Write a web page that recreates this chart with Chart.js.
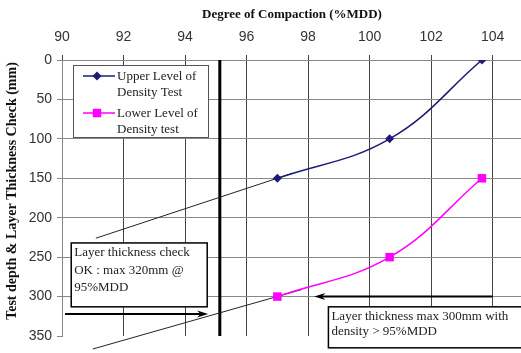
<!DOCTYPE html>
<html>
<head>
<meta charset="utf-8">
<script src="https://cdn.jsdelivr.net/npm/chart.js@4.4.1/dist/chart.umd.min.js"></script>
<style>
  html, body { margin: 0; padding: 0; background: #fff; }
  canvas { display: block; }
</style>
</head>
<body>
<canvas id="chart" width="521" height="353"></canvas>
<script>
// degree of compaction (%MDD) vs depth (mm)
const upperCompaction = [97, 100.65, 103.65];
const upperDepth = [150, 100, 0];
const lowerCompaction = [97, 100.65, 103.65];
const lowerDepth = [300, 250, 150];

// straight extensions drawn through the 97% points
const upperTrendX = [91.1, 97.5];
const upperTrendY = [226, 143.5];
const lowerTrendX = [91.0, 97.8];
const lowerTrendY = [366.5, 291];

// 95% MDD limit
const limitX = [95.13, 95.13];
const limitY = [0, 350];

const xTicks = [90, 92, 94, 96, 98, 100, 102, 104];
const yTicks = [0, 50, 100, 150, 200, 250, 300, 350];

const toPoints = (xs, ys) => xs.map((x, i) => ({ x, y: ys[i] }));

const NAVY = "#1c1c78";
const MAGENTA = "#ff00ff";
const SERIF = "'Liberation Serif', 'Times New Roman', serif";

// callouts in data units
const notes = [
  { box: [90.3, 232, 94.72, 313], lines: ["Layer thickness check", "OK : max 320mm @", "95%MDD"], gap: 17.5 },
  { box: [98.66, 313, 105.1, 365], lines: ["Layer thickness max 300mm with", "density > 95%MDD"], gap: 15 },
];
const arrows = [
  { from: [90.1, 322], to: [94.75, 322] },
  { from: [104.0, 300], to: [98.2, 300] },
];

function arrow(ctx, x1, y1, x2, y2) {
  const a = Math.atan2(y2 - y1, x2 - x1);
  const len = 11, half = 3.5;
  ctx.beginPath();
  ctx.moveTo(x1, y1);
  ctx.lineTo(x2 - Math.cos(a) * len * 0.7, y2 - Math.sin(a) * len * 0.7);
  ctx.stroke();
  ctx.beginPath();
  ctx.moveTo(x2, y2);
  ctx.lineTo(x2 - Math.cos(a) * len - Math.sin(a) * half, y2 - Math.sin(a) * len + Math.cos(a) * half);
  ctx.lineTo(x2 - Math.cos(a) * len * 0.7, y2 - Math.sin(a) * len * 0.7);
  ctx.lineTo(x2 - Math.cos(a) * len + Math.sin(a) * half, y2 - Math.sin(a) * len - Math.cos(a) * half);
  ctx.closePath();
  ctx.fill();
}

const extras = {
  id: "extras",
  afterDatasetsDraw(chart) {
    const { ctx, chartArea, scales } = chart;
    const sx = scales.x, sy = scales.y;
    ctx.save();

    // legend
    const lx = chartArea.left + 11, ly = chartArea.top + 5;
    ctx.fillStyle = "#fff";
    ctx.fillRect(lx, ly, 135, 72);
    ctx.strokeStyle = "#555";
    ctx.lineWidth = 1;
    ctx.strokeRect(lx + 0.5, ly + 0.5, 135, 72);
    const entries = [
      { color: NAVY, style: "rectRot", r: 4.5, text: ["Upper Level of", "Density Test"], y: ly + 11 },
      { color: MAGENTA, style: "rect", r: 6, text: ["Lower Level of", "Density test"], y: ly + 48 },
    ];
    ctx.font = "13px " + SERIF;
    ctx.textBaseline = "middle";
    ctx.textAlign = "left";
    entries.forEach(e => {
      ctx.strokeStyle = e.color;
      ctx.lineWidth = 1.5;
      ctx.beginPath();
      ctx.moveTo(lx + 10, e.y);
      ctx.lineTo(lx + 42, e.y);
      ctx.stroke();
      ctx.fillStyle = e.color;
      Chart.helpers.drawPoint(ctx, { pointStyle: e.style, radius: e.r, borderWidth: 0 }, lx + 24, e.y);
      ctx.fillStyle = "#222";
      e.text.forEach((t, i) => ctx.fillText(t, lx + 44, e.y + 1 + i * 16));
    });

    // callout boxes
    notes.forEach(n => {
      const x1 = sx.getPixelForValue(n.box[0]), y1 = sy.getPixelForValue(n.box[1]);
      const x2 = sx.getPixelForValue(n.box[2]), y2 = sy.getPixelForValue(n.box[3]);
      ctx.fillStyle = "#fff";
      ctx.fillRect(x1, y1, x2 - x1, y2 - y1);
      ctx.strokeStyle = "#000";
      ctx.lineWidth = 1.5;
      ctx.strokeRect(x1, y1, x2 - x1, y2 - y1);
      ctx.fillStyle = "#222";
      ctx.font = "13px " + SERIF;
      n.lines.forEach((t, i) => ctx.fillText(t, x1 + 3, y1 + 10 + i * n.gap));
    });

    // arrows
    ctx.strokeStyle = "#000";
    ctx.fillStyle = "#000";
    ctx.lineWidth = 2;
    arrows.forEach(a => {
      arrow(ctx,
        sx.getPixelForValue(a.from[0]), sy.getPixelForValue(a.from[1]),
        sx.getPixelForValue(a.to[0]), sy.getPixelForValue(a.to[1]));
    });

    ctx.restore();
  },
  afterDraw(chart) {
    const { ctx } = chart;
    ctx.save();
    ctx.fillStyle = "#111";
    ctx.font = "bold 13px " + SERIF;
    ctx.textAlign = "center";
    ctx.textBaseline = "middle";
    ctx.fillText("Degree of Compaction (%MDD)", 292, 15);
    ctx.translate(12, 191);
    ctx.rotate(-Math.PI / 2);
    ctx.font = "bold 14px " + SERIF;
    ctx.fillText("Test depth & Layer Thickness Check (mm)", 0, 0);
    ctx.restore();
  },
};

new Chart(document.getElementById("chart"), {
  type: "line",
  data: {
    datasets: [
      {
        label: "Upper Level of Density Test",
        data: toPoints(upperCompaction, upperDepth),
        borderColor: NAVY,
        backgroundColor: NAVY,
        borderWidth: 1.5,
        pointStyle: "rectRot",
        pointRadius: 4.5,
        pointBorderWidth: 0,
        tension: 0.4,
        order: 0,
      },
      {
        label: "Lower Level of Density test",
        data: toPoints(lowerCompaction, lowerDepth),
        borderColor: MAGENTA,
        backgroundColor: MAGENTA,
        borderWidth: 1.5,
        pointStyle: "rect",
        pointRadius: 6,
        pointBorderWidth: 0,
        tension: 0.4,
        order: 0,
      },
      {
        data: toPoints(upperTrendX, upperTrendY),
        borderColor: "#222",
        borderWidth: 1,
        pointRadius: 0,
        clip: false,
        order: 1,
      },
      {
        data: toPoints(lowerTrendX, lowerTrendY),
        borderColor: "#222",
        borderWidth: 1,
        pointRadius: 0,
        clip: false,
        order: 1,
      },
      {
        data: toPoints(limitX, limitY),
        borderColor: "#000",
        borderWidth: 3,
        pointRadius: 0,
        order: 2,
      },
    ],
  },
  options: {
    responsive: false,
    devicePixelRatio: 1,
    animation: false,
    events: [],
    layout: { autoPadding: false, padding: { left: 0, top: 0, right: 0, bottom: 17 } },
    plugins: { legend: { display: false }, tooltip: { enabled: false } },
    scales: {
      x: {
        type: "linear",
        position: "top",
        min: 90,
        max: 104.92,
        afterBuildTicks: (axis) => { axis.ticks = xTicks.map(v => ({ value: v })); },
        afterFit: (axis) => { axis.height = 60; },
        ticks: {
          padding: 9,
          color: "#333",
          font: { family: "'Liberation Sans', Arial, sans-serif", size: 14 },
        },
        grid: { color: "#444", lineWidth: 1, tickLength: 5 },
        border: { color: "#888" },
      },
      y: {
        type: "linear",
        reverse: true,
        min: 0,
        max: 350,
        afterBuildTicks: (axis) => { axis.ticks = yTicks.map(v => ({ value: v })); },
        afterFit: (axis) => { axis.width = 62; },
        ticks: {
          padding: 5,
          color: "#333",
          font: { family: "'Liberation Sans', Arial, sans-serif", size: 14 },
        },
        grid: {
          color: (c) => (c.tick && c.tick.value === 350 ? "rgba(0,0,0,0)" : "#888"),
          tickColor: "#888",
          lineWidth: 1,
          tickLength: 5,
        },
        border: { color: "#888" },
      },
    },
  },
  plugins: [extras],
});
</script>
</body>
</html>
